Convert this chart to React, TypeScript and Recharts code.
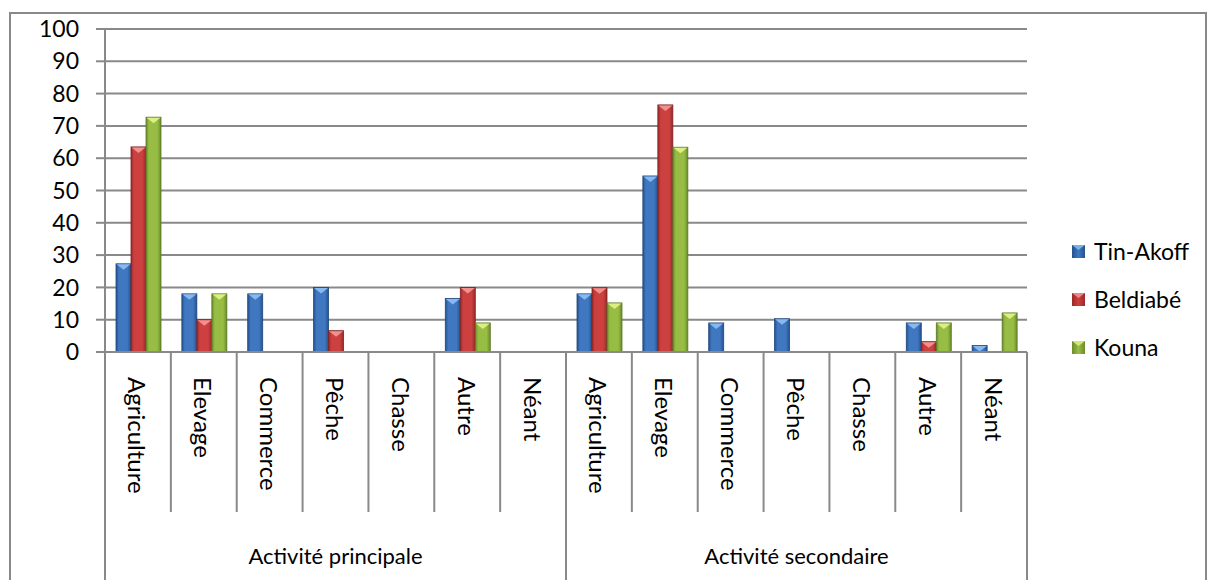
import React from 'react';
import { BarChart, Bar, XAxis, YAxis, CartesianGrid, Legend } from 'recharts';

const categories = ['Agriculture', 'Elevage', 'Commerce', 'Pêche', 'Chasse', 'Autre', 'Néant',
  'Agriculture', 'Elevage', 'Commerce', 'Pêche', 'Chasse', 'Autre', 'Néant'];
const groups = ['Activité principale', 'Activité secondaire'];
const groupOf = [0, 0, 0, 0, 0, 0, 0, 1, 1, 1, 1, 1, 1, 1];
const tinAkoff = [27.3, 18, 18, 20, 0, 16.6, 0, 18, 54.5, 9, 10.3, 0, 9, 2];
const beldiabe = [63.5, 10, 0, 6.6, 0, 20, 0, 19.9, 76.5, 0, 0, 0, 3.2, 0];
const kouna = [72.7, 18, 0, 0, 0, 9, 0, 15.2, 63.4, 0, 0, 0, 9, 12.1];
const seriesNames = ['Tin-Akoff', 'Beldiabé', 'Kouna'];
const yTicks = [0, 10, 20, 30, 40, 50, 60, 70, 80, 90, 100];

const data = categories.map((c, i) => ({
  cat: c,
  grp: groups[groupOf[i]],
  t: tinAkoff[i],
  b: beldiabe[i],
  k: kouna[i],
}));

const W = 1208;
const H = 580;
const LEFT = 10;
const YW = 95;
const RIGHT = 181;
const TOP = 29;
const XH1 = 160;
const XH2 = 68;
const AXIS_Y = H - XH1 - XH2;
const PLOT_W = W - LEFT - YW - RIGHT;
const BW = PLOT_W / categories.length;
const FONT = 'Lato';
const FS = 23;
const GRAY = '#898989';

const palette = [
  { dark: '#24528f', mid: '#3f78c0', light: '#8fc0f5', edge: '#1f467c' },
  { dark: '#9a2a28', mid: '#cc4040', light: '#f49a96', edge: '#7f2120' },
  { dark: '#6c8c2c', mid: '#97bd45', light: '#e2f48a', edge: '#5a7524' },
];

const makeShape = (s: number) => (props: any) => {
  const { x, y, width, height } = props;
  if (!height || height <= 0.5) return <g />;
  const p = palette[s];
  const cap = Math.min(6, height);
  return (
    <g>
      <rect x={x} y={y} width={width} height={height} fill={`url(#bar${s})`} stroke={p.edge} strokeWidth={0.8} />
      <polygon
        points={`${x + 0.5},${y + 0.5} ${x + width - 0.5},${y + 0.5} ${x + width / 2},${y + cap}`}
        fill={p.light}
        opacity={0.9}
      />
    </g>
  );
};

const CatTick = (props: any) => {
  const { x, payload, index } = props;
  const i = payload && payload.index !== undefined ? payload.index : index;
  const lx = x - BW / 2;
  const isGroupStart = i === 0 || i === 7;
  return (
    <g>
      <line x1={lx} x2={lx} y1={AXIS_Y} y2={isGroupStart ? H : AXIS_Y + XH1} stroke={GRAY} strokeWidth={2} />
      {i === categories.length - 1 && (
        <line x1={x + BW / 2} x2={x + BW / 2} y1={AXIS_Y} y2={H} stroke={GRAY} strokeWidth={2} />
      )}
      <text
        x={0}
        y={0}
        transform={`translate(${x},${AXIS_Y + 25}) rotate(90)`}
        textAnchor="start"
        dominantBaseline="central"
        fontSize={FS + 1}
        fontFamily={FONT}
        fill="#000"
      >
        {payload.value}
      </text>
    </g>
  );
};

const GrpTick = (props: any) => {
  const { x, payload, index } = props;
  const i = payload && payload.index !== undefined ? payload.index : index;
  if (i !== 3 && i !== 10) return <g />;
  return (
    <text x={x} y={AXIS_Y + XH1 + 43} textAnchor="middle" dominantBaseline="central" fontSize={22} fontFamily={FONT} fill="#000">
      {payload.value}
    </text>
  );
};

const LegendContent = () => (
  <div style={{ fontFamily: FONT, fontSize: FS, color: '#000' }}>
    {seriesNames.map((n, s) => (
      <div key={n} style={{ display: 'flex', alignItems: 'center', height: 48 }}>
        <svg width={13} height={13} style={{ marginRight: 9 }}>
          <rect x={0} y={0} width={13} height={13} fill={`url(#leg${s})`} />
          <polygon points="0,0 13,0 6.5,5" fill={palette[s].light} opacity={0.8} />
        </svg>
        <span>{n}</span>
      </div>
    ))}
  </div>
);

export default function App() {
  return (
    <div style={{ position: 'absolute', left: 0, top: 0, width: W, height: H, overflow: 'hidden', background: '#fff' }}>
      <div
        style={{
          position: 'absolute',
          left: 9,
          top: 12,
          width: 1198,
          height: 700,
          border: `2px solid ${GRAY}`,
          boxSizing: 'border-box',
        }}
      />
      <svg width={0} height={0} style={{ position: 'absolute' }}>
        <defs>
          {palette.map((p, s) => (
            <linearGradient key={s} id={`leg${s}`} x1="0" y1="0" x2="1" y2="0">
              <stop offset="0%" stopColor={p.dark} />
              <stop offset="50%" stopColor={p.mid} />
              <stop offset="100%" stopColor={p.dark} />
            </linearGradient>
          ))}
        </defs>
      </svg>
      <div style={{ position: 'absolute', left: 0, top: 0 }}>
        <BarChart
          width={W}
          height={H}
          data={data}
          margin={{ top: TOP, right: RIGHT, bottom: 0, left: LEFT }}
          barCategoryGap="16.7%"
          barGap={0}
        >
          <defs>
            {palette.map((p, s) => (
              <linearGradient key={s} id={`bar${s}`} x1="0" y1="0" x2="1" y2="0">
                <stop offset="0%" stopColor={p.dark} />
                <stop offset="20%" stopColor={p.mid} />
                <stop offset="75%" stopColor={p.mid} />
                <stop offset="100%" stopColor={p.dark} />
              </linearGradient>
            ))}
          </defs>
          <CartesianGrid vertical={false} stroke={GRAY} strokeWidth={2} />
          <XAxis
            xAxisId="cat"
            dataKey="cat"
            height={XH1}
            interval={0}
            tickLine={false}
            axisLine={{ stroke: GRAY, strokeWidth: 2 }}
            tick={<CatTick />}
          />
          <XAxis
            xAxisId="grp"
            dataKey="grp"
            height={XH2}
            interval={0}
            tickLine={false}
            axisLine={false}
            tick={<GrpTick />}
          />
          <YAxis
            domain={[0, 100]}
            ticks={yTicks}
            interval={0}
            width={YW}
            tickSize={9}
            tickMargin={17}
            axisLine={{ stroke: GRAY, strokeWidth: 2 }}
            tickLine={{ stroke: GRAY, strokeWidth: 2 }}
            tick={{ fill: '#000', fontSize: FS, fontFamily: FONT }}
          />
          <Legend
            layout="vertical"
            verticalAlign="middle"
            align="center"
            content={<LegendContent />}
            wrapperStyle={{ position: 'absolute', left: 1072, top: 227, width: 136 }}
          />
          <Bar xAxisId="cat" dataKey="t" name={seriesNames[0]} fill={palette[0].mid} shape={makeShape(0)} isAnimationActive={false} />
          <Bar xAxisId="cat" dataKey="b" name={seriesNames[1]} fill={palette[1].mid} shape={makeShape(1)} isAnimationActive={false} />
          <Bar xAxisId="cat" dataKey="k" name={seriesNames[2]} fill={palette[2].mid} shape={makeShape(2)} isAnimationActive={false} />
        </BarChart>
      </div>
    </div>
  );
}
